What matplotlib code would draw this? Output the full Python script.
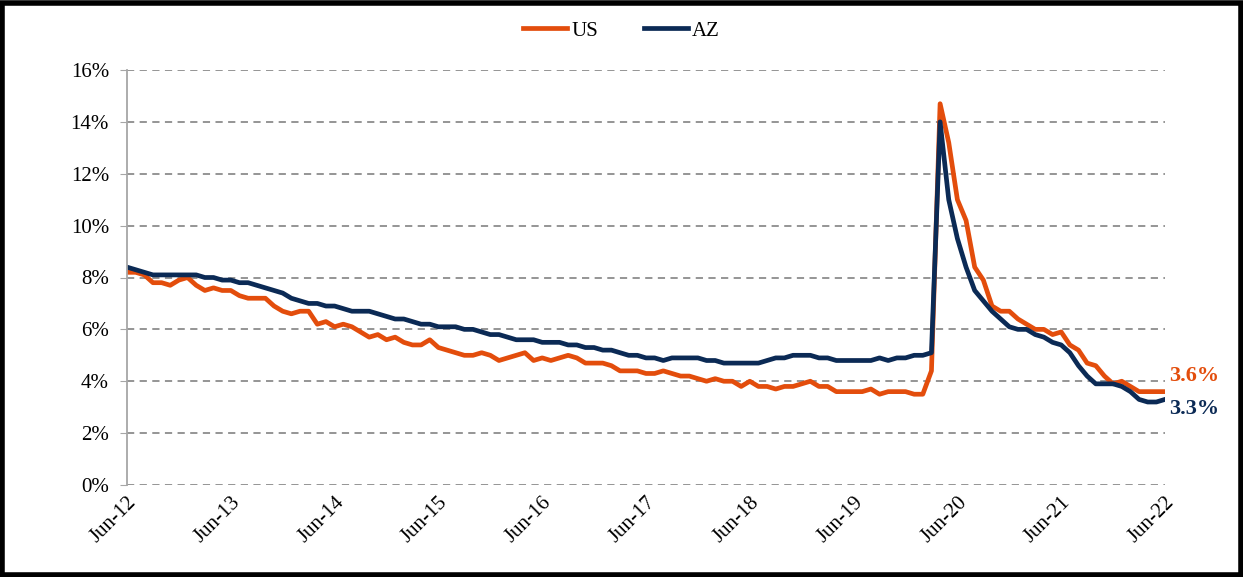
import matplotlib
matplotlib.use("Agg")
import matplotlib.pyplot as plt
from matplotlib.patches import Rectangle
import numpy as np

tick_labels = ["Jun-12", "Jun-13", "Jun-14", "Jun-15", "Jun-16", "Jun-17",
               "Jun-18", "Jun-19", "Jun-20", "Jun-21", "Jun-22"]

# Monthly unemployment rate (%), Jun-2012 .. Jun-2022
us = [8.2, 8.2, 8.1, 7.8, 7.8, 7.7, 7.9,
      8.0, 7.7, 7.5, 7.6, 7.5, 7.5, 7.3, 7.2, 7.2, 7.2, 6.9, 6.7,
      6.6, 6.7, 6.7, 6.2, 6.3, 6.1, 6.2, 6.1, 5.9, 5.7, 5.8, 5.6,
      5.7, 5.5, 5.4, 5.4, 5.6, 5.3, 5.2, 5.1, 5.0, 5.0, 5.1, 5.0,
      4.8, 4.9, 5.0, 5.1, 4.8, 4.9, 4.8, 4.9, 5.0, 4.9, 4.7, 4.7,
      4.7, 4.6, 4.4, 4.4, 4.4, 4.3, 4.3, 4.4, 4.3, 4.2, 4.2, 4.1,
      4.0, 4.1, 4.0, 4.0, 3.8, 4.0, 3.8, 3.8, 3.7, 3.8, 3.8, 3.9,
      4.0, 3.8, 3.8, 3.6, 3.6, 3.6, 3.6, 3.7, 3.5, 3.6, 3.6, 3.6,
      3.5, 3.5, 4.4, 14.7, 13.2, 11.0, 10.2, 8.4, 7.9, 6.9, 6.7, 6.7,
      6.4, 6.2, 6.0, 6.0, 5.8, 5.9, 5.4, 5.2, 4.7, 4.6, 4.2, 3.9,
      4.0, 3.8, 3.6, 3.6, 3.6, 3.6]

az = [8.4, 8.3, 8.2, 8.1, 8.1, 8.1, 8.1, 8.1, 8.1, 8.0, 8.0, 7.9, 7.9,
      7.8, 7.8, 7.7, 7.6, 7.5, 7.4, 7.2, 7.1, 7.0, 7.0, 6.9, 6.9,
      6.8, 6.7, 6.7, 6.7, 6.6, 6.5, 6.4, 6.4, 6.3, 6.2, 6.2, 6.1,
      6.1, 6.1, 6.0, 6.0, 5.9, 5.8, 5.8, 5.7, 5.6, 5.6, 5.6, 5.5,
      5.5, 5.5, 5.4, 5.4, 5.3, 5.3, 5.2, 5.2, 5.1, 5.0, 5.0, 4.9,
      4.9, 4.8, 4.9, 4.9, 4.9, 4.9, 4.8, 4.8, 4.7, 4.7, 4.7, 4.7,
      4.7, 4.8, 4.9, 4.9, 5.0, 5.0, 5.0, 4.9, 4.9, 4.8, 4.8, 4.8,
      4.8, 4.8, 4.9, 4.8, 4.9, 4.9, 5.0, 5.0, 5.1, 14.0, 11.0, 9.5,
      8.4, 7.5, 7.1, 6.7, 6.4, 6.1, 6.0, 6.0, 5.8, 5.7, 5.5, 5.4,
      5.1, 4.6, 4.2, 3.9, 3.9, 3.9, 3.8, 3.6, 3.3, 3.2, 3.2, 3.3]

US_COLOR = "#E34D0C"
AZ_COLOR = "#0B2A55"

plt.rcParams["font.family"] = ["Liberation Serif", "DejaVu Serif"]

fig = plt.figure(figsize=(12.43, 5.77), dpi=100)
ax = fig.add_axes([127 / 1243, 1 - 485 / 577, (1165 - 127) / 1243, (485 - 70) / 577])

x = np.arange(len(us))
ax.plot(x, us, color=US_COLOR, lw=3.4, label="US", solid_joinstyle="round")
ax.plot(x, az, color=AZ_COLOR, lw=3.4, label="AZ", solid_joinstyle="round")

ax.set_xlim(0, len(us) - 1)
ax.set_ylim(0, 16)
ax.set_yticks(np.arange(0, 17, 2))
ax.set_yticklabels([f"{v}%" for v in range(0, 17, 2)], fontsize=15)
ax.yaxis.grid(True, linestyle=(0, (4, 3)), color="#8C8C8C", lw=1.3)
ax.set_axisbelow(True)

ax.set_xticks(np.arange(0, len(us), 12))
ax.set_xticklabels(tick_labels, fontsize=15, rotation=45, ha="right",
                   rotation_mode="anchor")
ax.tick_params(axis="x", length=0, pad=6)
ax.tick_params(axis="y", length=5, color="#A6A6A6", pad=8)

for s in ["top", "right", "bottom"]:
    ax.spines[s].set_visible(False)
ax.spines["left"].set_color("#A6A6A6")
ax.spines["left"].set_linewidth(1.3)

ax.text(len(us) - 1 + 0.5, us[-1] + 0.6, f"{us[-1]}%", color=US_COLOR,
        fontsize=16, fontweight="bold", va="center", ha="left", clip_on=False)
ax.text(len(us) - 1 + 0.5, az[-1] - 0.37, f"{az[-1]}%", color=AZ_COLOR,
        fontsize=16, fontweight="bold", va="center", ha="left", clip_on=False)

fig.legend(loc="center", bbox_to_anchor=(0.5, 1 - 31 / 577), ncol=2,
           frameon=False, fontsize=15, handlelength=2.1, columnspacing=2.2,
           handletextpad=0.2)

fig.patches.append(Rectangle((0.002, 0.004), 0.996, 0.99, transform=fig.transFigure,
                             fill=False, edgecolor="black", lw=4))

fig.savefig("out.png", dpi=100)
